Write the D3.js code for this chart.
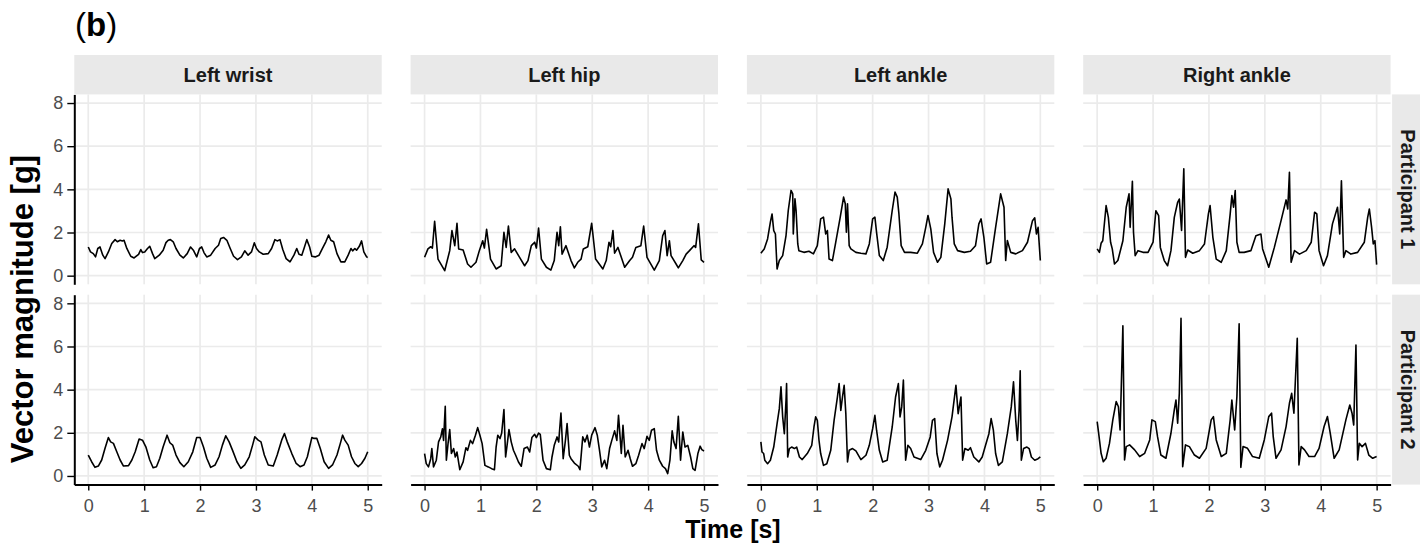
<!DOCTYPE html>
<html>
<head>
<meta charset="utf-8">
<script src="https://cdn.jsdelivr.net/npm/d3@7"></script>
<style>
body { margin: 0; background: #fff; }
svg text { font-family: "Liberation Sans", Arial, Helvetica, sans-serif; }
</style>
</head>
<body>
<div id="chart"></div>
<script>
var sites = ["Left wrist", "Left hip", "Left ankle", "Right ankle"];
var participants = ["Participant 1", "Participant 2"];
var xTicks = [0, 1, 2, 3, 4, 5];
var yTicks = [0, 2, 4, 6, 8];

// [time s, vector magnitude g]
var wristP1 = [[0,1.33],[.04,1.10],[.09,1.02],[.13,.87],[.17,1.26],[.21,1.33],[.26,.95],[.30,.79],[.36,1.10],[.42,1.49],[.48,1.67],[.52,1.57],[.57,1.64],[.61,1.61],[.64,1.64],[.69,1.26],[.76,.90],[.82,.82],[.90,.99],[.94,1.21],[.97,1.07],[1.01,1.10],[1.06,1.26],[1.10,1.36],[1.15,1.02],[1.19,.79],[1.27,.95],[1.34,1.18],[1.39,1.53],[1.43,1.64],[1.47,1.67],[1.52,1.57],[1.57,1.26],[1.64,.95],[1.70,.82],[1.77,1.02],[1.83,1.33],[1.88,1.18],[1.94,.87],[1.99,1.26],[2.03,1.33],[2.07,1.07],[2.12,.87],[2.19,.95],[2.27,1.26],[2.33,1.41],[2.37,1.72],[2.42,1.77],[2.48,1.64],[2.54,1.26],[2.60,.90],[2.67,.74],[2.74,.87],[2.80,1.15],[2.86,.95],[2.92,1.10],[2.97,1.52],[3.01,1.26],[3.06,1.10],[3.13,.99],[3.22,1.02],[3.28,1.26],[3.34,1.67],[3.38,1.61],[3.43,1.67],[3.48,1.21],[3.54,.79],[3.61,.64],[3.68,.95],[3.73,1.26],[3.77,.99],[3.82,.95],[3.86,1.26],[3.91,1.67],[3.96,1.33],[4.00,.90],[4.06,.87],[4.13,.95],[4.19,1.26],[4.25,1.57],[4.30,1.88],[4.34,1.64],[4.39,1.57],[4.45,1.02],[4.52,.64],[4.59,.64],[4.65,.95],[4.70,1.26],[4.73,1.15],[4.77,1.26],[4.80,1.18],[4.85,1.36],[4.89,1.61],[4.93,1.10],[4.98,.87],[5,.84]];
var wristP2 = [[0,.97],[.06,.66],[.12,.40],[.18,.46],[.24,.74],[.30,1.28],[.36,1.78],[.40,1.58],[.45,1.51],[.51,1.12],[.57,.74],[.63,.46],[.72,.48],[.78,.74],[.84,1.12],[.91,1.71],[.97,1.66],[1.03,1.35],[1.10,.74],[1.16,.38],[1.22,.43],[1.28,.82],[1.34,1.35],[1.41,1.89],[1.46,1.54],[1.51,1.43],[1.57,.97],[1.64,.62],[1.71,.43],[1.79,.66],[1.87,1.12],[1.94,1.78],[2.00,1.78],[2.06,1.35],[2.12,.82],[2.19,.40],[2.27,.51],[2.34,.89],[2.40,1.43],[2.46,1.86],[2.52,1.58],[2.58,1.20],[2.66,.66],[2.73,.35],[2.80,.51],[2.88,.89],[2.94,1.43],[2.98,1.82],[3.04,1.66],[3.09,1.58],[3.15,.97],[3.22,.51],[3.31,.46],[3.38,.97],[3.46,1.66],[3.51,1.97],[3.56,1.58],[3.64,1.05],[3.72,.58],[3.79,.43],[3.86,.51],[3.92,.89],[4.00,1.78],[4.04,1.74],[4.09,1.74],[4.15,1.28],[4.22,.66],[4.30,.35],[4.37,.51],[4.45,.97],[4.51,1.51],[4.55,1.89],[4.59,1.66],[4.65,1.43],[4.71,.89],[4.77,.58],[4.83,.43],[4.89,.58],[4.95,.82],[5,1.12]];
var hipP1 = [[0,.85],[.06,1.24],[.11,1.34],[.14,1.28],[.18,2.52],[.24,.77],[.36,.23],[.45,1.16],[.49,2.09],[.54,1.39],[.58,2.43],[.61,1.24],[.69,1.19],[.77,.54],[.83,.39],[.92,.62],[.98,1.16],[1.04,1.62],[1.07,1.28],[1.11,2.15],[1.18,.77],[1.28,.31],[1.37,.46],[1.42,2.01],[1.46,1.31],[1.50,2.30],[1.55,1.08],[1.61,1.24],[1.70,.85],[1.79,.46],[1.85,.70],[1.91,1.39],[1.97,1.55],[2.00,1.28],[2.04,2.21],[2.09,.77],[2.18,.39],[2.26,.26],[2.32,.70],[2.37,2.01],[2.40,1.39],[2.43,2.27],[2.46,1.0],[2.53,1.39],[2.62,.70],[2.68,.36],[2.74,.62],[2.80,.77],[2.84,1.24],[2.92,1.34],[2.99,2.43],[3.06,.77],[3.19,.31],[3.25,.70],[3.30,1.55],[3.33,1.34],[3.37,2.09],[3.40,1.04],[3.46,1.31],[3.58,.39],[3.67,.70],[3.72,.85],[3.78,1.31],[3.87,1.39],[3.92,2.30],[3.98,.85],[4.11,.26],[4.20,.70],[4.26,1.85],[4.30,2.09],[4.34,.93],[4.38,1.62],[4.41,.93],[4.50,.54],[4.54,.36],[4.62,.70],[4.68,1.0],[4.74,1.16],[4.82,1.39],[4.85,1.31],[4.90,2.40],[4.95,.73],[5,.62]];
var hipP2 = [[0,1.04],[.03,.57],[.07,.42],[.11,.80],[.13,1.27],[.16,.42],[.21,.73],[.25,1.58],[.29,1.81],[.32,2.19],[.34,1.65],[.37,3.23],[.39,.73],[.42,1.50],[.45,2.15],[.48,1.04],[.52,1.27],[.55,.88],[.58,1.11],[.63,.29],[.69,.65],[.74,1.31],[.77,1.19],[.82,1.65],[.86,1.50],[.91,1.89],[.95,2.24],[.99,1.89],[1.03,1.50],[1.08,.49],[1.14,.42],[1.20,.34],[1.25,.29],[1.28,1.34],[1.31,1.89],[1.35,1.73],[1.38,1.99],[1.42,3.08],[1.45,.88],[1.48,1.50],[1.51,2.15],[1.55,1.58],[1.59,1.19],[1.63,.96],[1.68,.65],[1.73,.45],[1.78,1.27],[1.84,1.34],[1.88,1.11],[1.92,1.78],[1.97,1.93],[2.00,1.78],[2.04,1.99],[2.07,1.93],[2.12,.73],[2.18,.34],[2.25,.29],[2.28,.88],[2.32,1.42],[2.37,1.81],[2.40,1.58],[2.44,2.92],[2.48,.80],[2.52,1.65],[2.55,2.43],[2.59,.96],[2.62,.80],[2.68,.60],[2.75,.45],[2.78,.29],[2.83,1.81],[2.87,1.58],[2.91,1.89],[2.95,1.34],[2.99,1.89],[3.05,2.24],[3.09,1.89],[3.13,1.19],[3.17,.42],[3.22,.73],[3.26,.34],[3.31,1.27],[3.35,1.65],[3.40,2.09],[3.44,1.65],[3.47,2.81],[3.52,1.04],[3.55,2.35],[3.59,.88],[3.64,1.19],[3.68,.80],[3.72,.45],[3.78,.57],[3.83,.96],[3.89,1.50],[3.93,1.27],[3.98,1.84],[4.02,1.65],[4.06,2.12],[4.11,2.19],[4.15,1.19],[4.20,.73],[4.26,.45],[4.31,.34],[4.35,.11],[4.39,.73],[4.43,2.09],[4.46,1.58],[4.50,1.27],[4.54,2.77],[4.58,.73],[4.62,2.04],[4.66,1.34],[4.71,1.42],[4.76,.88],[4.80,.34],[4.84,.26],[4.89,1.04],[4.93,1.38],[4.96,1.22],[5,1.16]];
var lAnkleP1 = [[0,1.04],[.06,1.24],[.12,1.70],[.17,2.48],[.20,2.86],[.23,2.09],[.26,1.93],[.29,.31],[.33,.70],[.39,.93],[.45,1.86],[.49,3.02],[.54,3.95],[.57,3.79],[.58,1.93],[.61,3.56],[.63,3.02],[.66,1.47],[.68,1.16],[.77,1.08],[.86,1.13],[.94,1.01],[1.01,1.39],[1.07,2.63],[1.12,2.71],[1.16,1.93],[1.19,2.09],[1.22,.77],[1.28,.70],[1.34,1.55],[1.42,2.71],[1.48,3.64],[1.51,3.33],[1.53,2.01],[1.55,3.33],[1.58,1.39],[1.61,1.24],[1.70,1.08],[1.79,1.04],[1.88,1.01],[1.94,1.47],[2.00,2.63],[2.04,2.71],[2.07,2.01],[2.12,.93],[2.19,.70],[2.26,1.32],[2.35,3.02],[2.40,3.87],[2.44,3.64],[2.47,2.86],[2.51,1.39],[2.57,1.08],[2.68,1.08],[2.80,1.04],[2.89,1.47],[2.95,2.24],[2.99,2.79],[3.04,2.17],[3.09,1.08],[3.16,.62],[3.22,.85],[3.29,2.40],[3.35,4.02],[3.40,3.56],[3.42,2.71],[3.46,1.47],[3.52,1.16],[3.64,1.08],[3.75,1.13],[3.84,1.39],[3.90,2.40],[3.94,2.63],[3.99,1.78],[4.04,.54],[4.11,.62],[4.20,2.24],[4.29,3.79],[4.35,3.17],[4.38,.70],[4.41,1.63],[4.47,1.08],[4.56,1.01],[4.68,1.16],[4.77,1.55],[4.86,2.55],[4.90,2.68],[4.93,1.93],[4.96,2.24],[5,.70]];
var lAnkleP2 = [[0,1.58],[.02,1.11],[.05,1.04],[.07,.73],[.12,.57],[.17,.73],[.23,1.34],[.29,2.43],[.33,3.12],[.36,4.13],[.39,2.74],[.42,1.96],[.45,3.51],[.46,4.28],[.48,.88],[.51,1.27],[.55,1.34],[.60,1.27],[.64,1.34],[.69,.88],[.74,.76],[.83,1.04],[.91,1.42],[.95,2.27],[.98,2.74],[1.01,2.58],[1.04,1.65],[1.07,1.04],[1.12,.49],[1.18,.57],[1.25,1.19],[1.31,2.58],[1.37,3.66],[1.40,4.28],[1.43,3.04],[1.46,3.66],[1.49,4.20],[1.52,2.89],[1.55,.65],[1.58,1.19],[1.64,1.27],[1.70,1.16],[1.79,.76],[1.88,.96],[1.94,1.42],[2.00,2.19],[2.04,2.81],[2.07,2.12],[2.12,1.19],[2.18,.65],[2.26,.73],[2.35,2.27],[2.41,3.66],[2.46,4.28],[2.49,2.74],[2.52,3.20],[2.55,4.44],[2.59,.73],[2.63,1.42],[2.68,1.27],[2.74,.88],[2.86,.76],[2.95,1.19],[3.03,1.81],[3.07,2.58],[3.11,2.66],[3.15,1.04],[3.20,.42],[3.25,.73],[3.34,1.65],[3.42,2.74],[3.49,4.20],[3.53,2.89],[3.58,3.66],[3.61,.73],[3.65,1.27],[3.71,1.19],[3.75,1.31],[3.81,.88],[3.90,.65],[3.96,.88],[4.02,1.42],[4.08,1.96],[4.12,2.66],[4.16,2.12],[4.20,1.04],[4.25,.49],[4.32,.65],[4.41,1.96],[4.48,3.20],[4.52,4.36],[4.56,2.58],[4.59,1.65],[4.62,3.04],[4.64,4.87],[4.66,.73],[4.70,1.27],[4.76,1.34],[4.80,1.27],[4.84,.88],[4.90,.73],[4.96,.80],[5,.88]];
var rAnkleP1 = [[0,1.24],[.04,1.08],[.07,1.50],[.10,1.62],[.16,3.25],[.20,2.70],[.24,1.55],[.27,1.24],[.31,.54],[.37,.70],[.46,1.62],[.52,3.17],[.57,3.79],[.59,2.24],[.63,4.37],[.65,2.01],[.68,.93],[.73,1.16],[.82,1.08],[.91,1.08],[1.00,1.55],[1.05,3.01],[1.10,2.78],[1.13,1.31],[1.20,.70],[1.26,.46],[1.32,1.16],[1.38,2.70],[1.44,3.40],[1.47,3.55],[1.51,2.09],[1.55,4.95],[1.58,.85],[1.62,1.19],[1.71,1.04],[1.83,1.16],[1.92,1.47],[1.99,2.86],[2.02,3.25],[2.07,1.78],[2.13,.77],[2.22,.62],[2.31,1.16],[2.38,2.86],[2.41,3.71],[2.44,3.17],[2.47,3.94],[2.50,1.55],[2.54,1.08],[2.63,1.08],[2.75,1.16],[2.84,1.85],[2.93,1.93],[2.96,1.24],[3.07,.39],[3.17,1.31],[3.29,2.55],[3.38,3.51],[3.41,3.09],[3.44,4.79],[3.47,.62],[3.53,1.16],[3.62,1.00],[3.74,1.16],[3.83,1.55],[3.89,2.94],[3.93,2.86],[3.97,1.16],[4.05,.46],[4.12,.93],[4.21,2.40],[4.30,3.17],[4.34,1.93],[4.37,4.40],[4.41,.85],[4.45,1.16],[4.54,1.00],[4.66,1.08],[4.78,1.55],[4.84,2.70],[4.87,3.09],[4.91,2.24],[4.94,1.47],[4.97,1.62],[5,.51]];
var rAnkleP2 = [[0,2.52],[.03,1.90],[.07,1.05],[.11,.66],[.16,.82],[.22,1.51],[.28,2.60],[.34,3.45],[.38,3.21],[.41,2.13],[.43,3.99],[.46,6.96],[.49,.74],[.52,1.36],[.58,1.44],[.67,1.21],[.76,.90],[.85,1.05],[.94,1.67],[.98,2.60],[1.04,2.52],[1.08,1.82],[1.14,.97],[1.23,.82],[1.32,1.98],[1.38,3.06],[1.41,3.52],[1.44,2.44],[1.47,3.83],[1.50,7.31],[1.53,.43],[1.58,1.44],[1.65,1.36],[1.74,.97],[1.83,.82],[1.95,1.28],[2.04,2.60],[2.08,2.75],[2.13,1.67],[2.22,.90],[2.31,1.05],[2.38,2.60],[2.41,3.52],[2.46,2.13],[2.50,3.68],[2.54,7.05],[2.57,.40],[2.61,1.36],[2.69,1.28],[2.78,.90],[2.90,.82],[2.99,1.67],[3.07,2.75],[3.12,2.91],[3.15,1.82],[3.20,.82],[3.29,1.21],[3.38,2.29],[3.44,3.37],[3.48,3.83],[3.52,2.91],[3.58,6.38],[3.61,.51],[3.65,1.36],[3.71,1.21],[3.79,.90],[3.89,.90],[3.97,1.28],[4.06,2.29],[4.12,2.75],[4.17,1.98],[4.24,.82],[4.33,1.21],[4.45,2.60],[4.52,3.29],[4.56,2.91],[4.59,2.36],[4.63,6.07],[4.66,.74],[4.69,1.51],[4.74,1.36],[4.80,1.51],[4.86,.97],[4.93,.82],[5,.90]];

var series = [
  [wristP1, hipP1, lAnkleP1, rAnkleP1],
  [wristP2, hipP2, lAnkleP2, rAnkleP2]
];

var svg_width = 1420, svg_height = 555;
var panel_left = 74.3, panel_w = 307.4, panel_step = 336.3;
var row_top = [94.4, 294.7], panel_h = 189.9;
var strip_top = 55;

var svg = d3.select("#chart").append("svg")
  .attr("width", svg_width)
  .attr("height", svg_height);

// figure tag
var tag = svg.append("text").attr("x", 75).attr("y", 36).attr("font-size", 33).attr("fill", "#000");
tag.append("tspan").text("(");
tag.append("tspan").attr("font-weight", "bold").text("b");
tag.append("tspan").text(")");

participants.forEach(function (p, r) {
  var top = row_top[r];
  var yScale = d3.scaleLinear().domain([-0.4, 8.4]).range([top + panel_h, top]);

  sites.forEach(function (s, c) {
    var left = panel_left + c * panel_step;
    var xScale = d3.scaleLinear().domain([-0.25, 5.25]).range([left, left + panel_w]);
    var g = svg.append("g");

    // grid
    g.selectAll(".gx").data(xTicks).enter().append("line")
      .attr("x1", d => xScale(d)).attr("x2", d => xScale(d))
      .attr("y1", top).attr("y2", top + panel_h)
      .attr("stroke", "#ebebeb").attr("stroke-width", 1.7);
    g.selectAll(".gy").data(yTicks).enter().append("line")
      .attr("x1", left).attr("x2", left + panel_w)
      .attr("y1", d => yScale(d)).attr("y2", d => yScale(d))
      .attr("stroke", "#ebebeb").attr("stroke-width", 1.7);

    var line = d3.line().x(d => xScale(d[0])).y(d => yScale(d[1]));
    g.append("path")
      .datum(series[r][c])
      .attr("d", line)
      .attr("fill", "none")
      .attr("stroke", "#000")
      .attr("stroke-width", 1.6)
      .attr("stroke-linejoin", "round");

    if (c == 0) {
      var ya = g.append("g")
        .attr("transform", "translate(" + left + ",0)")
        .call(d3.axisLeft(yScale).tickValues(yTicks).tickFormat(d3.format("d"))
          .tickSize(7).tickSizeOuter(0).tickPadding(4));
      ya.attr("font-size", 18);
      ya.select(".domain").attr("stroke-width", 2);
      ya.selectAll(".tick line").attr("stroke-width", 1.4);
      ya.selectAll(".tick text").attr("fill", "#4d4d4d");
    }
    if (r == 1) {
      var xa = g.append("g")
        .attr("transform", "translate(0," + (top + panel_h) + ")")
        .call(d3.axisBottom(xScale).tickValues(xTicks).tickFormat(d3.format("d"))
          .tickSize(6).tickSizeOuter(0).tickPadding(9));
      xa.attr("font-size", 18);
      xa.select(".domain").attr("stroke-width", 2);
      xa.selectAll(".tick line").attr("stroke-width", 1.4);
      xa.selectAll(".tick text").attr("fill", "#4d4d4d");
    }

    if (r == 0) {
      svg.append("rect")
        .attr("x", left).attr("y", strip_top)
        .attr("width", panel_w).attr("height", top - strip_top)
        .attr("fill", "#e9e9e9");
      svg.append("text")
        .attr("x", left + panel_w / 2).attr("y", (strip_top + top) / 2)
        .attr("text-anchor", "middle").attr("dominant-baseline", "central")
        .attr("font-size", 20).attr("font-weight", "bold").attr("fill", "#1a1a1a")
        .text(s);
    }
  });

  // right strip
  var sx = panel_left + 3 * panel_step + panel_w + 1.5;
  svg.append("rect")
    .attr("x", sx).attr("y", top)
    .attr("width", svg_width - sx).attr("height", panel_h)
    .attr("fill", "#e9e9e9");
  svg.append("text")
    .attr("transform", "translate(" + (sx + 16) + "," + (top + panel_h / 2) + ") rotate(90)")
    .attr("text-anchor", "middle").attr("dominant-baseline", "central")
    .attr("font-size", 20).attr("font-weight", "bold").attr("fill", "#1a1a1a")
    .text(p);
});

// axis titles
svg.append("text")
  .attr("transform", "translate(33,309) rotate(-90)")
  .attr("text-anchor", "middle")
  .attr("font-size", 31).attr("font-weight", "bold")
  .text("Vector magnitude [g]");

svg.append("text")
  .attr("x", 733).attr("y", 538)
  .attr("text-anchor", "middle")
  .attr("font-size", 25).attr("font-weight", "bold")
  .text("Time [s]");
</script>
</body>
</html>
